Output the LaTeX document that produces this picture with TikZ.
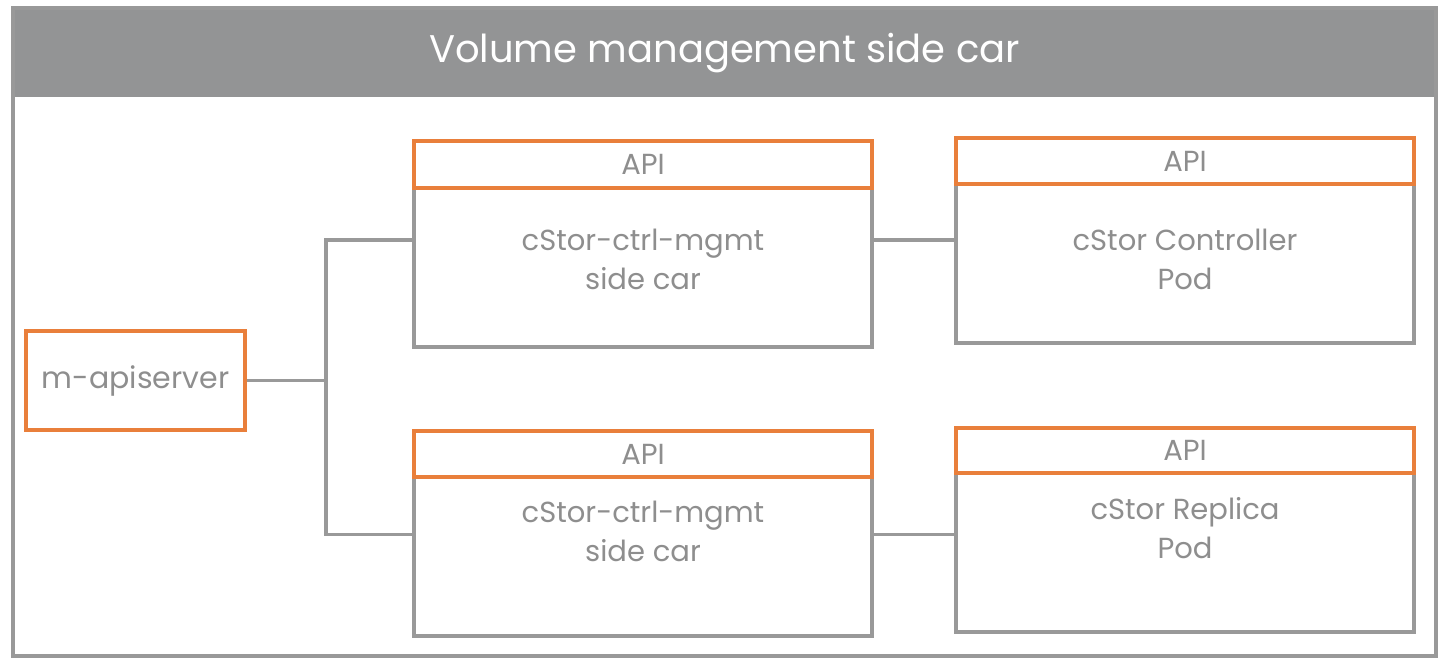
\documentclass[tikz,border=0pt]{standalone}
\usepackage{fontspec}
\setmainfont{Poppins}
\definecolor{orangeline}{HTML}{E97F3B}
\definecolor{grayline}{HTML}{999999}
\definecolor{graytext}{HTML}{8E8E8E}
\definecolor{headgray}{HTML}{939495}
\begin{document}
\begin{tikzpicture}[x=1pt,y=-1pt,
  bodybox/.style={draw=grayline, line width=3.5pt, fill=white, minimum width=458pt, minimum height=159pt, inner sep=0pt},
  apibox/.style={draw=orangeline, line width=4pt, fill=white, minimum width=458pt, inner sep=0pt, text=graytext, font=\fontsize{29}{30}\selectfont},
  lbl/.style={text=graytext, align=center, font=\fontsize{29}{39}\selectfont},
  conn/.style={draw=grayline, line width=3.5pt}]
\useasboundingbox (0,0) rectangle (1447,668);
\fill[headgray] (13,8) rectangle (1436,97);
\draw[grayline, line width=3.5pt] (13,8) rectangle (1436,656);
\node[text=white, font=\fontsize{38.5}{40}\selectfont] (title) at (724.5,53) {Volume management side car};
% m-apiserver
\node[draw=orangeline, line width=4pt, minimum width=219pt, minimum height=99pt, inner sep=0pt, text=graytext, font=\fontsize{30}{30}\selectfont] (mapi) at (135.5,380.5) {m-apiserver};
% top middle
\node[bodybox] (body1) at (643,267.5) {};
\node[apibox, minimum height=47pt] (api1) at (643,164.5) {API};
\node[lbl] (t1) at (643,259.5) {cStor-ctrl-mgmt\\side car};
% top right
\node[bodybox] (body2) at (1185,263.5) {};
\node[apibox, minimum height=46pt] (api2) at (1185,161) {API};
\node[lbl] (t2) at (1185,259.5) {cStor Controller\\Pod};
% bottom middle
\node[bodybox] (body3) at (643,556.5) {};
\node[apibox, minimum height=46pt] (api3) at (643,454) {API};
\node[lbl] (t3) at (643,531.5) {cStor-ctrl-mgmt\\side car};
% bottom right
\node[bodybox] (body4) at (1185,552.5) {};
\node[apibox, minimum height=45pt] (api4) at (1185,450.5) {API};
\node[lbl] (t4) at (1185,528.5) {cStor Replica\\Pod};
% connectors
\coordinate (j) at (326,380.5);
\coordinate (c1) at ([yshift=-54pt]body1.north west);
\coordinate (c3) at ([yshift=-59pt]body3.north west);
\draw[conn] (mapi.east) -- (j);
\draw[conn] (j) |- (c1);
\draw[conn] (j) |- (c3);
\draw[conn] (c1 -| body1.east) -- (body2.west |- c1);
\draw[conn] (c3 -| body3.east) -- (body4.west |- c3);
\end{tikzpicture}
\end{document}
